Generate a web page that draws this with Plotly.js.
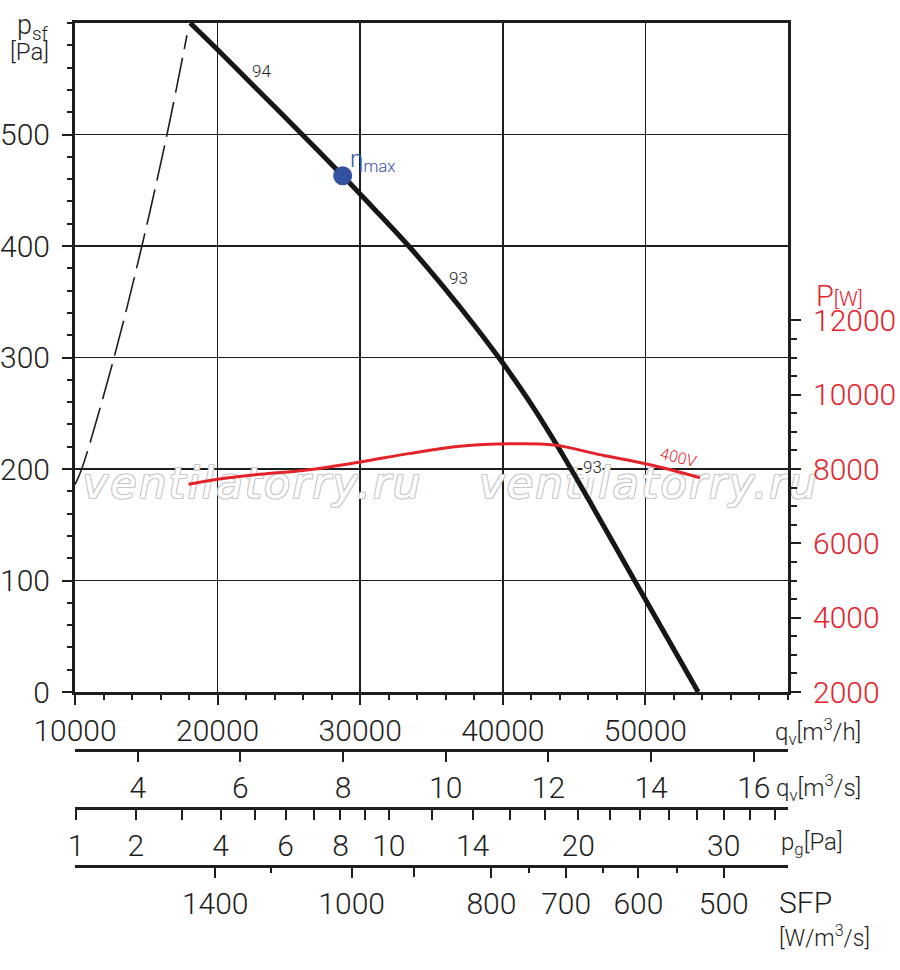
<!DOCTYPE html>
<html>
<head>
<meta charset="utf-8">
<script src="https://cdn.plot.ly/plotly-3.0.1.min.js"></script>
<style>
  html, body { margin: 0; padding: 0; background: #fff; }
  #plot { width: 900px; height: 970px; }
</style>
</head>
<body>
<div id="plot"></div>
<script>
// fan curve: static pressure p_sf [Pa] against air flow q_v [m3/h]
const fanFlow = [18080, 20000, 22500, 25700, 28770, 31000, 33400, 35800, 38000, 40000, 42000, 44000, 46000, 49150, 53700];
const fanPressure = [600, 576, 544, 503, 463, 433, 400, 364, 329, 295, 258, 217, 173, 102, 0];

// system curve (dashed)
const sysFlow = [10000, 10470, 12740, 14690, 16450, 17850];
const sysPressure = [186, 200, 300, 400, 500, 589];

// input power P [W] at 400V
const powerFlow = [17965, 20000, 23000, 26300, 30000, 33500, 37000, 40500, 43600, 46900, 50400, 53820];
const powerWatt = [7588, 7723, 7857, 7975, 8190, 8420, 8615, 8680, 8646, 8377, 8108, 7766];

// best efficiency point
const etaFlow = 28770;
const etaPressure = 463;

// axis ticks
const flowTicks = [10000, 20000, 30000, 40000, 50000];
const pressureTicks = [0, 100, 200, 300, 400, 500];
const powerTicks = [2000, 4000, 6000, 8000, 10000, 12000];
const qsTicks = [4, 6, 8, 10, 12, 14, 16];
const pgTicks = [1, 2, 3, 4, 5, 6, 7, 8, 9, 10, 12, 14, 16, 18, 20, 22, 24, 26, 28, 30, 32, 34];
const pgLabeled = [1, 2, 4, 6, 8, 10, 14, 20, 30];
const sfpTicks = [1400, 1000, 800, 700, 600, 500];
const sfpTickFlow = [19830, 29400, 39200, 44440, 49510, 55490];
const sfpLongBlank = [900];
const sfpLongBlankFlow = [33800];
const sfpMinor = [1200, 750, 650, 550];
const sfpMinorFlow = [23720, 41870, 47040, 52210];

const watermark = 'ventilatorry.ru';

// dynamic pressure scale (roughly sqrt law)
const pgToFlow = p => 10070 + 10144 * (Math.sqrt(p) - 1);

// pixel -> paper helpers (plot frame 75..788 x 23..866)
const L = 75, R = 788, T = 23, B = 866;
const X = x => (x - L) / (R - L);
const Y = y => (B - y) / (B - T);

const ink = '#1e1e1e';
const red = '#e4222a';
const blue = '#3452a3';
const font = 'Roboto, sans-serif';
const tickFont = {family: font, size: 30, color: ink, weight: 300};

const baseAxis = {
  showline: true, linecolor: ink, linewidth: 3,
  ticks: 'outside', tickcolor: ink, tickwidth: 2, ticklen: 10,
  tickfont: tickFont,
  showgrid: false, zeroline: false, fixedrange: true, tickangle: 0,
  tickmode: 'array',
};

const powerMinor = [];
for (let w = 2000; w <= 12000; w += 500) powerMinor.push(w);

const pgBlank = pgTicks.filter(v => !pgLabeled.includes(v));

const flat = axis => ({x: [null], y: [null], xaxis: axis, yaxis: 'y', mode: 'markers', hoverinfo: 'skip', showlegend: false});

const data = [
  {
    x: [22443, 50246], y: [184, 184], mode: 'text',
    text: [watermark, watermark],
    textfont: {family: 'DejaVu Sans', size: 43, style: 'italic', color: '#ffffff',
      shadow: '1px 1px 0 #c8c8c8, -1px -1px 0 #c8c8c8, 1px -1px 0 #c8c8c8, -1px 1px 0 #c8c8c8'},
    cliponaxis: false, hoverinfo: 'skip', showlegend: false,
  },
  {
    x: sysFlow, y: sysPressure, mode: 'lines',
    line: {color: ink, width: 1.6, dash: '36px,9px', shape: 'spline'},
    hoverinfo: 'skip', showlegend: false,
  },
  {
    x: powerFlow, y: powerWatt, yaxis: 'y2', mode: 'lines',
    line: {color: red, width: 3, shape: 'spline'},
    showlegend: false,
  },
  {
    x: fanFlow, y: fanPressure, mode: 'lines',
    line: {color: '#161616', width: 5, shape: 'spline', smoothing: 0.8},
    showlegend: false,
  },
  {
    x: [etaFlow], y: [etaPressure], mode: 'markers',
    marker: {color: blue, size: 19},
    showlegend: false,
  },
  flat('x2'), flat('x3'), flat('x4'), flat('x5'),
];

const labelFont = {family: font, size: 24, color: ink, weight: 300};

const note = (px, py, text, xanchor, f) => ({
  x: X(px), y: Y(py), xref: 'paper', yref: 'paper',
  xanchor: xanchor, yanchor: 'middle', text: text, showarrow: false, font: f,
});

const layout = {
  width: 900, height: 970,
  margin: {l: L, r: 900 - R, t: T, b: 970 - B},
  paper_bgcolor: '#fff', plot_bgcolor: '#fff',
  showlegend: false,
  font: {family: font, color: ink},
  xaxis: {
    ...baseAxis, anchor: 'y', range: [10000, 60000],
    tickvals: flowTicks, ticktext: flowTicks.map(String),
    showgrid: true, gridcolor: ink, gridwidth: 1.5, mirror: true,
    minor: {tickmode: 'linear', tick0: 10000, dtick: 2000, ticks: 'outside', ticklen: 5, tickwidth: 2, tickcolor: ink, showgrid: false},
  },
  xaxis2: {
    ...baseAxis, overlaying: 'x', anchor: 'free', position: Y(750), range: [10000, 60000],
    tickvals: qsTicks.map(v => v * 3600), ticktext: qsTicks.map(String),
  },
  xaxis3: {
    ...baseAxis, overlaying: 'x', anchor: 'free', position: Y(807.7), range: [10000, 60000],
    tickvals: pgLabeled.map(pgToFlow), ticktext: pgLabeled.map(String),
    minor: {tickmode: 'array', tickvals: pgBlank.map(pgToFlow), ticks: 'outside', ticklen: 10, tickwidth: 2, tickcolor: ink},
  },
  xaxis4: {
    ...baseAxis, overlaying: 'x', anchor: 'free', position: 0, range: [10000, 60000],
    tickvals: sfpTickFlow, ticktext: sfpTicks.map(String),
    minor: {tickmode: 'array', tickvals: sfpMinorFlow, ticks: 'outside', ticklen: 5, tickwidth: 2, tickcolor: ink},
  },
  xaxis5: {
    ...baseAxis, overlaying: 'x', anchor: 'free', position: 0, range: [10000, 60000],
    showline: false, showticklabels: false, tickvals: sfpLongBlankFlow,
  },
  yaxis: {
    ...baseAxis, anchor: 'x', domain: [Y(692), 1], range: [0, 600],
    tickvals: pressureTicks, ticktext: pressureTicks.map(String),
    showgrid: true, gridcolor: ink, gridwidth: 1.5, ticklabelstandoff: 6,
    minor: {tickmode: 'linear', tick0: 0, dtick: 20, ticks: 'outside', ticklen: 5, tickwidth: 2, tickcolor: ink, showgrid: false},
  },
  yaxis2: {
    ...baseAxis, overlaying: 'y', side: 'right', anchor: 'x', range: [2000, 20000],
    tickvals: powerTicks, ticktext: powerTicks.map(String),
    tickfont: {...tickFont, color: red}, ticklabelstandoff: 6,
    minor: {tickmode: 'array', tickvals: powerMinor, ticks: 'outside', ticklen: 6, tickwidth: 2, tickcolor: ink},
  },
  annotations: [
    // curve labels
    {x: 23050, y: 557, xref: 'x', yref: 'y', text: '94', showarrow: false, font: {family: font, size: 17, color: ink, weight: 300}},
    {x: 36890, y: 371, xref: 'x', yref: 'y', text: '93', showarrow: false, font: {family: font, size: 17, color: ink, weight: 300}},
    {x: 46300, y: 202, xref: 'x', yref: 'y', text: '93', showarrow: false, bgcolor: '#fff', borderpad: 0, font: {family: font, size: 17, color: ink, weight: 300}},
    {x: 52320, y: 210, xref: 'x', yref: 'y', text: '400V', showarrow: false, textangle: 13.5, font: {family: font, size: 16, color: red, weight: 300}},
    {x: 29121, y: 477, xref: 'x', yref: 'y', xanchor: 'left', yanchor: 'middle', text: 'η<sub>max</sub>', showarrow: false, font: {family: font, size: 24, color: blue, weight: 300}},
    // axis titles
    note(15, 27, 'p<sub>sf</sub>', 'left', {family: font, size: 27, color: ink, weight: 300}),
    note(8, 52, '[Pa]', 'left', {family: font, size: 24, color: ink, weight: 300}),
    note(814, 296, 'P<span style="font-size:21px">[W]</span>', 'left', {family: font, size: 29, color: red, weight: 300}),
    note(863, 731, 'q<sub>v</sub>[m<sup>3</sup>/h]', 'right', labelFont),
    note(863, 787, 'q<sub>v</sub>[m<sup>3</sup>/s]', 'right', labelFont),
    note(779, 843, 'p<sub>g</sub>[Pa]', 'left', labelFont),
    note(777, 902, 'SFP', 'left', tickFont),
    note(777, 936, '[W/m<sup>3</sup>/s]', 'left', {family: font, size: 23, color: ink, weight: 300}),
  ],
};

Plotly.newPlot('plot', data, layout, {displayModeBar: false, staticPlot: true}).then(gd => {
  // the watermark in the original is set wider than the font allows
  gd.querySelectorAll('.textpoint text').forEach(t => t.setAttribute('letter-spacing', '2.3px'));
});
</script>
</body>
</html>
